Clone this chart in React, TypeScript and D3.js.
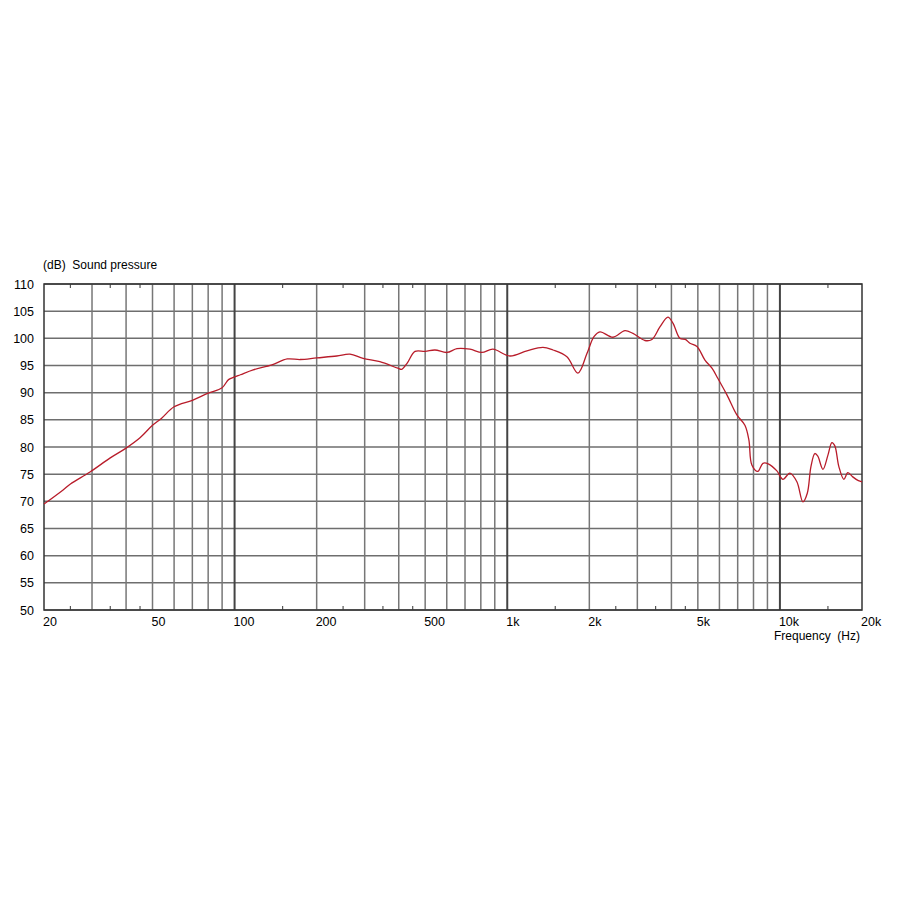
import * as d3 from 'd3'
import React, { useRef, useEffect } from 'react'

// frequency response (Hz, dB)
const freqs = [20, 23.5, 25, 29.5, 35, 40, 45, 50, 54, 60, 70, 80, 90, 95, 100, 105, 117, 137, 156, 174,
  200, 237, 265, 296, 341, 397, 410, 429, 459, 500, 543, 601, 654, 730, 807, 886, 1023, 1181, 1352, 1471,
  1655, 1816, 1960, 2080, 2187, 2442, 2701, 2890, 3199, 3393, 3630, 3883, 4052, 4296, 4500, 4677, 4963,
  5309, 5634, 5925, 6392, 6953, 7441, 7694, 7890, 8300, 8664, 9060, 9749, 10256, 10880, 11540, 12140,
  12600, 12995, 13430, 13770, 14380, 15000, 15510, 15900, 16450, 17160, 17750, 18500, 19400, 20000]
const spl = [69.5, 72.1, 73.2, 75.4, 78.0, 79.8, 81.7, 84.0, 85.3, 87.4, 88.6, 89.9, 90.9, 92.4, 92.9, 93.3, 94.2, 95.1, 96.2, 96.1,
  96.4, 96.75, 97.1, 96.3, 95.7, 94.5, 94.3, 95.4, 97.6, 97.6, 97.85, 97.4, 98.1, 98.0, 97.4, 98.0, 96.75, 97.7, 98.35, 97.85,
  96.6, 93.6, 97.2, 100.3, 101.2, 100.2, 101.4, 100.9, 99.6, 99.8, 102.1, 103.9, 102.8, 100.0, 99.8, 99.1, 98.5,
  96.0, 94.5, 92.6, 89.6, 85.9, 84.0, 81.3, 76.7, 75.5, 77.0, 76.9, 75.6, 74.05, 75.2, 73.6, 69.9,
  71.5, 76.4, 78.8, 78.3, 75.9, 78.5, 80.8, 80.2, 76.4, 74.05, 75.3, 74.5, 73.8, 73.6]

const gridFreqs = [30, 40, 50, 60, 70, 80, 90, 100, 200, 300, 400, 500, 600, 700, 800, 900, 1000,
  2000, 3000, 4000, 5000, 6000, 7000, 8000, 9000, 10000]
const decadeFreqs = [100, 1000, 10000]
const minorFreqs = [25, 35, 45, 150, 250, 350, 450, 1500, 2500, 3500, 4500, 15000]
const xTickFreqs = [20, 50, 100, 200, 500, 1000, 2000, 5000, 10000, 20000]
const xTickLabels = ['20', '50', '100', '200', '500', '1k', '2k', '5k', '10k', '20k']
const yTicks = [50, 55, 60, 65, 70, 75, 80, 85, 90, 95, 100, 105, 110]

export default function App() {
  const svgRef = useRef<SVGSVGElement>(null)

  useEffect(() => {
    const svg = d3.select(svgRef.current)
    svg.selectAll('*').remove()

    const left = 44, right = 862, top = 284, bottom = 610
    const x = d3.scaleLog().domain([20, 20000]).range([left, right])
    const y = d3.scaleLinear().domain([50, 110]).range([bottom, top])
    const font = 'Liberation Sans, Arial, sans-serif'

    // horizontal grid
    svg.append('g').selectAll('line')
      .data(yTicks)
      .join('line')
      .attr('x1', left).attr('x2', right)
      .attr('y1', d => y(d)).attr('y2', d => y(d))
      .attr('stroke', '#6e6e6e')
      .attr('stroke-width', 1.5)

    // vertical grid, decades a bit darker
    svg.append('g').selectAll('line')
      .data(gridFreqs)
      .join('line')
      .attr('x1', d => x(d)).attr('x2', d => x(d))
      .attr('y1', top).attr('y2', bottom)
      .attr('stroke', d => decadeFreqs.includes(d) ? '#444' : '#777')
      .attr('stroke-width', d => decadeFreqs.includes(d) ? 2 : 1.5)

    // little ticks inside the frame, top and bottom
    const minor = svg.append('g')
    minor.selectAll('line.b')
      .data(minorFreqs)
      .join('line')
      .attr('class', 'b')
      .attr('x1', d => x(d)).attr('x2', d => x(d))
      .attr('y1', bottom).attr('y2', bottom - 4)
      .attr('stroke', '#555').attr('stroke-width', 1.2)
    minor.selectAll('line.t')
      .data(minorFreqs)
      .join('line')
      .attr('class', 't')
      .attr('x1', d => x(d)).attr('x2', d => x(d))
      .attr('y1', top).attr('y2', top + 4)
      .attr('stroke', '#555').attr('stroke-width', 1.2)

    // frame
    svg.append('rect')
      .attr('x', left).attr('y', top)
      .attr('width', right - left).attr('height', bottom - top)
      .attr('fill', 'none')
      .attr('stroke', '#333')
      .attr('stroke-width', 1.5)

    // response curve
    const line = d3.line<number>()
      .x((_, i) => x(freqs[i]))
      .y(d => y(d))
      .curve(d3.curveCatmullRom.alpha(0.5))
    svg.append('path')
      .attr('d', line(spl))
      .attr('fill', 'none')
      .attr('stroke', '#b81c2a')
      .attr('stroke-width', 1.3)

    // y labels
    svg.append('g').selectAll('text')
      .data(yTicks)
      .join('text')
      .attr('x', 34)
      .attr('y', d => y(d))
      .attr('dy', '0.36em')
      .attr('text-anchor', 'end')
      .style('font-family', font)
      .style('font-size', '12.5px')
      .attr('fill', '#000')
      .text(d => d)

    // x labels, left aligned on their line
    svg.append('g').selectAll('text')
      .data(xTickFreqs)
      .join('text')
      .attr('x', d => x(d) - 1)
      .attr('y', 626)
      .attr('text-anchor', 'start')
      .style('font-family', font)
      .style('font-size', '12.5px')
      .attr('fill', '#000')
      .text((_, i) => xTickLabels[i])

    svg.append('text')
      .attr('x', 43).attr('y', 269)
      .style('font-family', font)
      .style('font-size', '12px')
      .attr('fill', '#000')
      .text('(dB)\u00a0\u00a0Sound pressure')

    svg.append('text')
      .attr('x', 860).attr('y', 640)
      .attr('text-anchor', 'end')
      .style('font-family', font)
      .style('font-size', '12px')
      .attr('fill', '#000')
      .text('Frequency\u00a0\u00a0(Hz)')
  }, [])

  return (
    <svg ref={svgRef} width={900} height={900}
      style={{ position: 'absolute', left: 0, top: 0, background: '#fff' }} />
  )
}
